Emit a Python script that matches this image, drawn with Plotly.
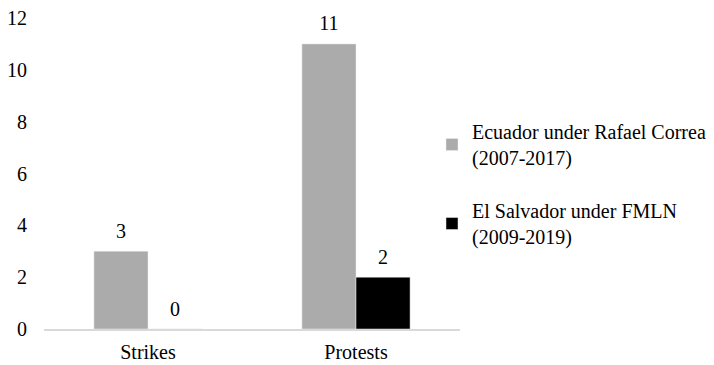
import plotly.graph_objects as go

categories = ["Strikes", "Protests"]
ecuador = [3, 11]
el_salvador = [0, 2]
series_names = ["Ecuador under Rafael Correa<br>(2007-2017)", "El Salvador under FMLN<br>(2009-2019)"]
series_colors = ["#ababab", "#000000"]
y_ticks = [0, 2, 4, 6, 8, 10, 12]

font = dict(family="Liberation Serif, Times New Roman, serif", size=20, color="#000000")

# The page body has an 8px margin, so the figure is drawn 8px smaller than the window.
W, H = 706, 357

fig = go.Figure()
for i, (vals, name, color) in enumerate(zip([ecuador, el_salvador], series_names, series_colors)):
    fig.add_trace(go.Bar(x=categories, y=vals, name=name, marker_color=color,
                         legendgroup=str(i), offsetgroup=str(i)))
# value labels, placed with the same grouping as the bars
for i, vals in enumerate([ecuador, el_salvador]):
    fig.add_trace(go.Scatter(x=categories, y=vals, mode="markers+text", text=[str(v) for v in vals],
                             textposition="top center", textfont=font, offsetgroup=str(i),
                             marker=dict(size=12, opacity=0), showlegend=False,
                             hoverinfo="skip", cliponaxis=False))

fig.update_layout(
    width=W, height=H,
    margin=dict(l=36, r=254, t=10, b=36, autoexpand=False),
    paper_bgcolor="white", plot_bgcolor="white",
    font=font,
    barmode="group", bargap=0.48, bargroupgap=0,
    scattermode="group", scattergap=0.48,
    legend=dict(x=424 / W, y=1 - 104 / H, xref="container", yref="container",
                xanchor="left", yanchor="top",
                font=font, traceorder="grouped", tracegroupgap=24, itemwidth=30,
                bgcolor="rgba(0,0,0,0)"),
    showlegend=True,
)
fig.update_yaxes(range=[0, 12], tickvals=y_ticks, showgrid=False, zeroline=False, showline=False,
                 ticks="", ticklabelstandoff=16, tickfont=font, ticklabeloverflow="allow")
fig.update_xaxes(showline=True, linecolor="#d9d9d9", linewidth=1.5, ticks="", tickfont=font,
                 ticklabelstandoff=4)

fig.write_html("out.html")
